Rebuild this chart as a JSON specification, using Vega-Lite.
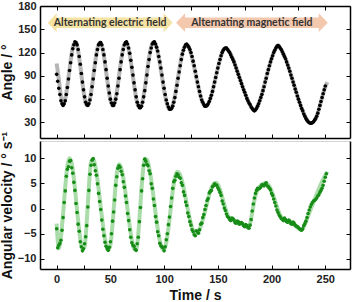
{
  "$schema": "https://vega.github.io/schema/vega-lite/v6.json",
  "padding": {"left": 0, "top": 0, "right": 4, "bottom": 0},
  "spacing": 3,
  "bounds": "flush",
  "config": {
    "font": "Liberation Sans",
    "view": {"stroke": null},
    "axis": {
      "grid": false,
      "labelFont": "Liberation Sans", "labelFontWeight": "bold", "labelFontSize": 11, "labelColor": "#222",
      "titleFont": "Liberation Sans", "titleFontWeight": "bold", "titleFontSize": 14, "titleColor": "#111",
      "domainColor": "#000", "domainWidth": 1.5, "tickColor": "#000", "tickWidth": 1, "labelFlush": false
    }
  },
  "datasets": {
    "d": [
      {"t":0,"a":92,"af":106,"v":-4.0,"vf":-3},
      {"t":2,"a":74,"af":86,"v":-7.3,"vf":-7.9},
      {"t":4,"a":58,"af":64,"v":-6.3,"vf":-5.6},
      {"t":6,"a":52,"af":53,"v":-1.8,"vf":-1.0},
      {"t":8,"a":58,"af":60.2,"v":3.5,"vf":4.3},
      {"t":10,"a":75,"af":77.3,"v":7.8,"vf":8.5},
      {"t":12,"a":97,"af":98.8,"v":9.4,"vf":10},
      {"t":14,"a":117,"af":118.6,"v":8.1,"vf":9.0},
      {"t":16,"a":130,"af":131.1,"v":5.2,"vf":6.0},
      {"t":18,"a":133,"af":132.7,"v":1.0,"vf":1.9},
      {"t":20,"a":124,"af":122.3,"v":-3.1,"vf":-2.4},
      {"t":22,"a":105,"af":102.9,"v":-6.6,"vf":-6.0},
      {"t":24,"a":82,"af":80.4,"v":-8.4,"vf":-8.0},
      {"t":26,"a":63,"af":61.6,"v":-7.0,"vf":-7.6},
      {"t":28,"a":53,"af":52.4,"v":-3.4,"vf":-2.6},
      {"t":30,"a":54,"af":55.2,"v":3.6,"vf":4.3},
      {"t":32,"a":66,"af":68.4,"v":8.6,"vf":9.3},
      {"t":34,"a":86,"af":88.2,"v":9.9,"vf":9.8},
      {"t":36,"a":107,"af":109.3,"v":7.5,"vf":8.4},
      {"t":38,"a":124,"af":125.6,"v":4.9,"vf":5.7},
      {"t":40,"a":132,"af":132.9,"v":1.4,"vf":2.2},
      {"t":42,"a":130,"af":129.0,"v":-2.3,"vf":-1.5},
      {"t":44,"a":117,"af":115.4,"v":-5.4,"vf":-4.7},
      {"t":46,"a":98,"af":95.7,"v":-7.5,"vf":-7.1},
      {"t":48,"a":77,"af":75.1,"v":-8.3,"vf":-8.2},
      {"t":50,"a":60,"af":59.1,"v":-6.6,"vf":-7.3},
      {"t":52,"a":52,"af":52.2,"v":-2.5,"vf":-3.2},
      {"t":54,"a":55,"af":56.0,"v":1.7,"vf":2.4},
      {"t":56,"a":67,"af":69.6,"v":6.3,"vf":7.0},
      {"t":58,"a":87,"af":89.3,"v":8.5,"vf":8.8},
      {"t":60,"a":108,"af":109.9,"v":7.4,"vf":8.1},
      {"t":62,"a":124,"af":125.9,"v":5.3,"vf":6.1},
      {"t":64,"a":133,"af":132.8,"v":2.5,"vf":3.2},
      {"t":66,"a":131,"af":129.5,"v":-1.0,"vf":-0.2},
      {"t":68,"a":119,"af":117.3,"v":-4.2,"vf":-3.5},
      {"t":70,"a":101,"af":99.1,"v":-6.8,"vf":-6.2},
      {"t":72,"a":81,"af":79.0,"v":-7.5,"vf":-7.9},
      {"t":74,"a":63,"af":61.8,"v":-8.3,"vf":-8.2},
      {"t":76,"a":52,"af":51.1,"v":-5.7,"vf":-5.0},
      {"t":78,"a":49,"af":49.6,"v":0.2,"vf":0.9},
      {"t":80,"a":56,"af":57.8,"v":5.9,"vf":6.7},
      {"t":82,"a":71,"af":73.8,"v":9.8,"vf":9.9},
      {"t":84,"a":91,"af":93.8,"v":8.8,"vf":9.7},
      {"t":86,"a":111,"af":113.2,"v":7.5,"vf":8.2},
      {"t":88,"a":126,"af":127.6,"v":4.9,"vf":5.7},
      {"t":90,"a":133,"af":133.4,"v":1.9,"vf":2.6},
      {"t":92,"a":131,"af":130.6,"v":-1.6,"vf":-0.8},
      {"t":94,"a":122,"af":121.0,"v":-4.6,"vf":-3.9},
      {"t":96,"a":108,"af":106.3,"v":-6.9,"vf":-6.4},
      {"t":98,"a":91,"af":88.9,"v":-7.6,"vf":-7.9},
      {"t":100,"a":74,"af":71.7,"v":-8.4,"vf":-8.1},
      {"t":102,"a":59,"af":57.7,"v":-6.2,"vf":-6.8},
      {"t":104,"a":50,"af":49.1,"v":-3.2,"vf":-3.9},
      {"t":106,"a":47,"af":47.2,"v":0.4,"vf":-0.3},
      {"t":108,"a":51,"af":52.5,"v":4.0,"vf":3.4},
      {"t":110,"a":62,"af":63.9,"v":5.6,"vf":6.1},
      {"t":112,"a":78,"af":79.5,"v":6.9,"vf":7.3},
      {"t":114,"a":95,"af":96.7,"v":6.2,"vf":7.0},
      {"t":116,"a":111,"af":112.4,"v":5.1,"vf":6.0},
      {"t":118,"a":123,"af":124.1,"v":3.3,"vf":4.3},
      {"t":120,"a":130,"af":129.7,"v":1.3,"vf":2.1},
      {"t":122,"a":129,"af":128.8,"v":-0.9,"vf":-0.1},
      {"t":124,"a":124,"af":123.2,"v":-2.6,"vf":-2.1},
      {"t":126,"a":115,"af":113.7,"v":-4.2,"vf":-3.8},
      {"t":128,"a":103,"af":101.4,"v":-5.2,"vf":-4.8},
      {"t":130,"a":89,"af":87.7,"v":-4.4,"vf":-5.0},
      {"t":132,"a":76,"af":74.5,"v":-4.9,"vf":-4.6},
      {"t":134,"a":64,"af":63.1,"v":-3.1,"vf":-3.6},
      {"t":136,"a":56,"af":55.0,"v":-1.8,"vf":-2.2},
      {"t":138,"a":51,"af":51.2,"v":-0.2,"vf":-0.6},
      {"t":140,"a":52,"af":52.0,"v":1.6,"vf":1.1},
      {"t":142,"a":57,"af":56.8,"v":3.1,"vf":2.7},
      {"t":144,"a":65,"af":65.1,"v":3.6,"vf":4.0},
      {"t":146,"a":76,"af":75.8,"v":4.5,"vf":4.8},
      {"t":148,"a":88,"af":88.0,"v":4.7,"vf":5.1},
      {"t":150,"a":100,"af":100.3,"v":4.1,"vf":4.8},
      {"t":152,"a":111,"af":111.2,"v":3.2,"vf":3.8},
      {"t":154,"a":120,"af":119.9,"v":1.5,"vf":2.3},
      {"t":156,"a":125,"af":125.0,"v":0.1,"vf":0.8},
      {"t":158,"a":126,"af":125.8,"v":-1.1,"vf":-0.6},
      {"t":160,"a":122,"af":122.4,"v":-1.8,"vf":-1.7},
      {"t":162,"a":117,"af":117.6,"v":-2.4,"vf":-2.1},
      {"t":164,"a":111,"af":111.7,"v":-2.0,"vf":-2.3},
      {"t":166,"a":104,"af":104.8,"v":-2.8,"vf":-2.5},
      {"t":168,"a":96,"af":97.0,"v":-2.5,"vf":-2.7},
      {"t":170,"a":88,"af":88.9,"v":-3.1,"vf":-2.9},
      {"t":172,"a":80,"af":80.8,"v":-2.8,"vf":-3.1},
      {"t":174,"a":72,"af":72.6,"v":-3.4,"vf":-3.3},
      {"t":176,"a":65,"af":65.1,"v":-3.2,"vf":-3.5},
      {"t":178,"a":58,"af":58.3,"v":-3.8,"vf":-3.6},
      {"t":180,"a":53,"af":52.6,"v":-3.3,"vf":-3.0},
      {"t":182,"a":48,"af":48.2,"v":-0.5,"vf":-0.8},
      {"t":184,"a":45,"af":45.2,"v":2.1,"vf":1.6},
      {"t":186,"a":48,"af":48.5,"v":3.6,"vf":3.2},
      {"t":188,"a":54,"af":54.3,"v":3.9,"vf":4.1},
      {"t":190,"a":62,"af":62.2,"v":4.3,"vf":4.6},
      {"t":192,"a":71,"af":71.5,"v":4.6,"vf":4.9},
      {"t":194,"a":82,"af":81.9,"v":4.9,"vf":5.0},
      {"t":196,"a":93,"af":92.6,"v":4.5,"vf":4.9},
      {"t":198,"a":103,"af":103.0,"v":4.0,"vf":4.4},
      {"t":200,"a":112,"af":112.3,"v":3.0,"vf":3.5},
      {"t":202,"a":120,"af":120.2,"v":1.9,"vf":2.3},
      {"t":204,"a":126,"af":126.0,"v":0.5,"vf":1.0},
      {"t":206,"a":129,"af":129.3,"v":-0.8,"vf":-0.3},
      {"t":208,"a":126,"af":126.1,"v":-1.6,"vf":-1.3},
      {"t":210,"a":121,"af":121.4,"v":-2.1,"vf":-2.0},
      {"t":212,"a":115,"af":115.4,"v":-1.9,"vf":-2.3},
      {"t":214,"a":108,"af":108.3,"v":-2.6,"vf":-2.5},
      {"t":216,"a":100,"af":100.4,"v":-2.3,"vf":-2.7},
      {"t":218,"a":91,"af":91.6,"v":-3.0,"vf":-2.9},
      {"t":220,"a":82,"af":82.6,"v":-2.7,"vf":-3.1},
      {"t":222,"a":73,"af":73.5,"v":-3.3,"vf":-3.4},
      {"t":224,"a":64,"af":64.7,"v":-3.6,"vf":-3.8},
      {"t":226,"a":56,"af":56.1,"v":-4.0,"vf":-4.1},
      {"t":228,"a":48,"af":48.4,"v":-4.3,"vf":-4.2},
      {"t":230,"a":41,"af":41.5,"v":-3.4,"vf":-3.6},
      {"t":232,"a":35,"af":35.5,"v":-2.5,"vf":-2.6},
      {"t":234,"a":31,"af":31.2,"v":-1.0,"vf":-1.5},
      {"t":236,"a":29,"af":29.2,"v":0.3,"vf":-0.4},
      {"t":238,"a":30,"af":29.5,"v":1.2,"vf":0.7},
      {"t":240,"a":33,"af":32.5,"v":1.6,"vf":1.8},
      {"t":242,"a":38,"af":38,"v":2.1,"vf":2.9},
      {"t":244,"a":47,"af":47,"v":2.7,"vf":3.9},
      {"t":246,"a":57,"af":57,"v":3.6,"vf":4.9},
      {"t":248,"a":67,"af":67,"v":4.6,"vf":5.8},
      {"t":250,"a":77,"af":76,"v":6.2,"vf":6.6},
      {"t":252,"af":82,"vf":7.3}
    ],
    "odd": [
      {"t":1,"a":83,"v":-7.8},{"t":3,"a":66,"v":-6.9},{"t":5,"a":54,"v":-4.3},{"t":7,"a":54,"v":1.2},
      {"t":9,"a":66,"v":6.4},{"t":11,"a":86,"v":8.3},{"t":13,"a":107,"v":9.5},{"t":15,"a":125,"v":7.0},
      {"t":17,"a":134,"v":3.6},{"t":19,"a":130,"v":-0.8},{"t":21,"a":115,"v":-4.5},{"t":23,"a":93,"v":-7.6},
      {"t":25,"a":72,"v":-8.0},{"t":27,"a":56,"v":-5.6},{"t":29,"a":52,"v":0.3},{"t":31,"a":59,"v":6.8},
      {"t":33,"a":76,"v":9.6},{"t":35,"a":97,"v":8.7},{"t":37,"a":117,"v":6.6},{"t":39,"a":130,"v":3.0},
      {"t":41,"a":133,"v":-0.2},{"t":43,"a":124,"v":-4.1},{"t":45,"a":108,"v":-6.7},{"t":47,"a":87,"v":-8.0},
      {"t":49,"a":68,"v":-7.7},{"t":51,"a":55,"v":-5.0},{"t":53,"a":52,"v":-0.7},{"t":55,"a":60,"v":4.6},
      {"t":57,"a":77,"v":8.0},{"t":59,"a":98,"v":8.2},{"t":61,"a":117,"v":6.7},{"t":63,"a":130,"v":4.2},
      {"t":65,"a":134,"v":1.2},{"t":67,"a":126,"v":-2.4},{"t":69,"a":110,"v":-5.7},{"t":71,"a":91,"v":-7.3},
      {"t":73,"a":72,"v":-8.1},{"t":75,"a":56,"v":-7.0},{"t":77,"a":49,"v":-2.6},{"t":79,"a":51,"v":3.5},
      {"t":81,"a":63,"v":8.6},{"t":83,"a":81,"v":9.4},{"t":85,"a":102,"v":8.5},{"t":87,"a":120,"v":6.9},
      {"t":89,"a":131,"v":4.0},{"t":91,"a":134,"v":0.6},{"t":93,"a":127,"v":-2.7},{"t":95,"a":115,"v":-5.4},
      {"t":97,"a":100,"v":-7.4},{"t":99,"a":82,"v":-7.8},{"t":101,"a":66,"v":-7.6},{"t":103,"a":54,"v":-5.0},
      {"t":105,"a":47,"v":-1.7},{"t":107,"a":48,"v":2.1},{"t":109,"a":56,"v":5.3},{"t":111,"a":70,"v":6.4},
      {"t":113,"a":87,"v":6.7},{"t":115,"a":103,"v":6.0},{"t":117,"a":118,"v":4.6},{"t":119,"a":127,"v":2.6},
      {"t":121,"a":131,"v":0.6},{"t":123,"a":127,"v":-1.6},{"t":125,"a":120,"v":-3.3},{"t":127,"a":109,"v":-4.6},
      {"t":129,"a":96,"v":-5.4},{"t":131,"a":82,"v":-4.6},{"t":133,"a":70,"v":-4.2},{"t":135,"a":59,"v":-2.9},
      {"t":137,"a":53,"v":-1.2},{"t":139,"a":51,"v":0.6},{"t":141,"a":54,"v":2.0},{"t":143,"a":61,"v":3.4},
      {"t":145,"a":70,"v":4.3},{"t":147,"a":82,"v":4.9},{"t":149,"a":94,"v":4.6},{"t":151,"a":106,"v":3.7},
      {"t":153,"a":116,"v":2.6},{"t":155,"a":123,"v":0.9},{"t":157,"a":126,"v":-0.4},{"t":159,"a":124,"v":-1.6},
      {"t":161,"a":120,"v":-2.2},{"t":163,"a":114,"v":-1.9},{"t":165,"a":108,"v":-2.3},{"t":167,"a":100,"v":-2.9},
      {"t":169,"a":92,"v":-2.6},{"t":171,"a":84,"v":-2.9},{"t":173,"a":76,"v":-3.0},{"t":175,"a":69,"v":-3.6},
      {"t":177,"a":61,"v":-3.4},{"t":179,"a":55,"v":-3.9},{"t":181,"a":50,"v":-2.2},{"t":183,"a":46,"v":0.9},
      {"t":185,"a":46,"v":3.0},{"t":187,"a":51,"v":4.0},{"t":189,"a":58,"v":4.0},{"t":191,"a":66,"v":4.7},
      {"t":193,"a":76,"v":4.5},{"t":195,"a":87,"v":5.1},{"t":197,"a":98,"v":4.3},{"t":199,"a":108,"v":3.7},
      {"t":201,"a":116,"v":2.6},{"t":203,"a":123,"v":1.2},{"t":205,"a":128,"v":-0.3},{"t":207,"a":128,"v":-1.3},
      {"t":209,"a":124,"v":-2.0},{"t":211,"a":118,"v":-2.4},{"t":213,"a":112,"v":-2.2},{"t":215,"a":104,"v":-2.7},
      {"t":217,"a":96,"v":-2.5},{"t":219,"a":87,"v":-3.1},{"t":221,"a":78,"v":-2.9},{"t":223,"a":69,"v":-3.5},
      {"t":225,"a":60,"v":-3.8},{"t":227,"a":52,"v":-4.2},{"t":229,"a":45,"v":-4.0},{"t":231,"a":38,"v":-3.0},
      {"t":233,"a":33,"v":-1.8},{"t":235,"a":30,"v":-0.3},{"t":237,"a":29,"v":0.8},{"t":239,"a":31,"v":1.5},
      {"t":241,"a":35,"v":1.8},{"t":243,"a":42,"v":2.5},{"t":245,"a":52,"v":3.2},{"t":247,"a":62,"v":4.0},
      {"t":249,"a":72,"v":5.4},{"t":251,"v":6.9}
    ],
    "ann": [
      {"label": "Alternating electric field", "t": 49.8, "a": 158.5},
      {"label": "Alternating magnetic field", "t": 181.7, "a": 158.5}
    ]
  },
  "vconcat": [
    {
      "width": 310,
      "height": 132,
      "layer": [
        {
          "data": {"name": "ann"},
          "transform": [{"filter": "datum.label == 'Alternating electric field'"}],
          "mark": {"type": "point", "filled": true, "opacity": 1, "color": "#f5e3a4", "size": 15625,
                   "shape": "M-1,0L-0.856,-0.15L-0.856,-0.085L0.856,-0.085L0.856,-0.15L1,0L0.856,0.15L0.856,0.085L-0.856,0.085L-0.856,0.15Z"},
          "encoding": {
            "x": {"field": "t", "type": "quantitative", "axis": null},
            "y": {"field": "a", "type": "quantitative", "axis": null}
          }
        },
        {
          "data": {"name": "ann"},
          "transform": [{"filter": "datum.label == 'Alternating magnetic field'"}],
          "mark": {"type": "point", "filled": true, "opacity": 1, "color": "#f4c8ad", "size": 23013,
                   "shape": "M-1,0L-0.881,-0.123L-0.881,-0.07L0.881,-0.07L0.881,-0.123L1,0L0.881,0.123L0.881,0.07L-0.881,0.07L-0.881,0.123Z"},
          "encoding": {
            "x": {"field": "t", "type": "quantitative", "axis": null},
            "y": {"field": "a", "type": "quantitative", "axis": null}
          }
        },
        {
          "data": {"name": "ann"},
          "mark": {"type": "text", "font": "Lato", "fontWeight": "bold", "fontSize": 10.5, "color": "#333", "baseline": "middle", "align": "center"},
          "encoding": {
            "x": {"field": "t", "type": "quantitative", "axis": null},
            "y": {"field": "a", "type": "quantitative", "axis": null},
            "text": {"field": "label"}
          }
        },
        {
          "data": {"name": "d"},
          "mark": {"type": "line", "color": "#b5b5b5", "strokeWidth": 4, "interpolate": "monotone"},
          "encoding": {
            "x": {"field": "t", "type": "quantitative",
                  "scale": {"domain": [-15.5, 273], "nice": false, "zero": false},
                  "axis": {"orient": "bottom", "labels": false, "title": null, "tickSize": -4,
                           "values": [0,25,50,75,100,125,150,175,200,225,250]}},
            "y": {"field": "af", "type": "quantitative",
                  "scale": {"domain": [10, 180], "nice": false, "zero": false},
                  "axis": {"orient": "left", "title": "Angle / °", "tickSize": -4, "labelPadding": 8, "titlePadding": 3,
                           "values": [30,60,90,120,150,180]}}
          }
        },
        {
          "data": {"name": "d"},
          "mark": {"type": "point", "filled": true, "opacity": 1, "color": "#000", "size": 13},
          "encoding": {
            "x": {"field": "t", "type": "quantitative",
                  "axis": {"orient": "top", "labels": false, "title": null, "tickSize": -4,
                           "values": [0,25,50,75,100,125,150,175,200,225,250]}},
            "y": {"field": "a", "type": "quantitative",
                  "axis": {"orient": "right", "labels": false, "title": null, "tickSize": -4,
                           "values": [30,60,90,120,150,180]}}
          }
        },
        {
          "data": {"name": "odd"},
          "mark": {"type": "point", "filled": true, "opacity": 1, "color": "#000", "size": 13},
          "encoding": {
            "x": {"field": "t", "type": "quantitative", "axis": null},
            "y": {"field": "a", "type": "quantitative", "axis": null}
          }
        }
      ],
      "resolve": {"axis": {"x": "independent", "y": "independent"}}
    },
    {
      "width": 310,
      "height": 128,
      "layer": [
        {
          "data": {"name": "d"},
          "mark": {"type": "line", "color": "#a9dca9", "strokeWidth": 4, "interpolate": "monotone"},
          "encoding": {
            "x": {"field": "t", "type": "quantitative",
                  "scale": {"domain": [-15.5, 273], "nice": false, "zero": false},
                  "axis": {"orient": "bottom", "title": "Time / s", "tickSize": -4, "labelPadding": 8, "titlePadding": 4,
                           "values": [0,25,50,75,100,125,150,175,200,225,250],
                           "labelExpr": "datum.value % 50 == 0 ? datum.label : ''"}},
            "y": {"field": "vf", "type": "quantitative",
                  "scale": {"domain": [-12, 13.4], "nice": false, "zero": false},
                  "axis": {"orient": "left", "title": "Angular velocity / ° s⁻¹", "tickSize": -4, "labelPadding": 8, "titlePadding": 3,
                           "values": [-10,-5,0,5,10]}}
          }
        },
        {
          "data": {"name": "d"},
          "mark": {"type": "point", "filled": true, "opacity": 1, "color": "#178c17", "size": 13},
          "encoding": {
            "x": {"field": "t", "type": "quantitative",
                  "axis": {"orient": "top", "labels": false, "title": null, "tickSize": 0,
                           "domainColor": "#aaaaaa", "domainDash": [1, 1], "domainWidth": 1}},
            "y": {"field": "v", "type": "quantitative",
                  "axis": {"orient": "right", "labels": false, "title": null, "tickSize": -4,
                           "values": [-10,-5,0,5,10]}}
          }
        },
        {
          "data": {"name": "odd"},
          "mark": {"type": "point", "filled": true, "opacity": 1, "color": "#178c17", "size": 13},
          "encoding": {
            "x": {"field": "t", "type": "quantitative", "axis": null},
            "y": {"field": "v", "type": "quantitative", "axis": null}
          }
        }
      ],
      "resolve": {"axis": {"x": "independent", "y": "independent"}}
    }
  ]
}
